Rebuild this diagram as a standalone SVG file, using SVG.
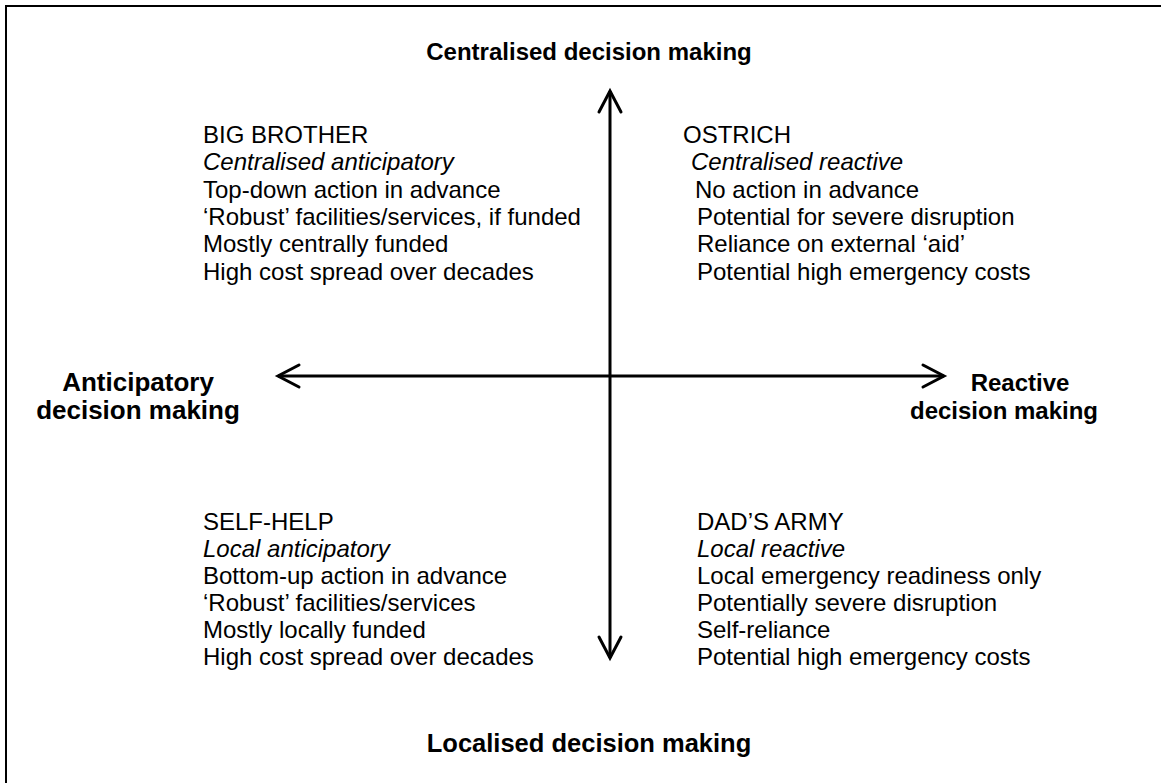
<svg xmlns="http://www.w3.org/2000/svg" width="1161" height="783" viewBox="0 0 1161 783">
  <style>
    text { font-family: "Liberation Sans", Arial, sans-serif; fill: #000; }
    .axis-label { font-size: 24px; font-weight: bold; }
    .axis-label.wide { font-size: 26px; }
    .axis-label.low { font-size: 25.5px; }
    .quad { font-size: 24px; }
    .quad .sub { font-style: italic; }
    .axis { stroke: #000; stroke-width: 3; fill: none; }
    .frame { stroke: #000; stroke-width: 2; fill: none; }
  </style>
  <defs>
    <marker id="chevron" markerUnits="userSpaceOnUse" viewBox="-26 -16 30 32" markerWidth="30" markerHeight="32" refX="0" refY="0" orient="auto-start-reverse" overflow="visible">
      <path d="M -21 -11 L 0 0 L -21 11" stroke="#000" stroke-width="3" fill="none" stroke-linecap="round" stroke-linejoin="miter"/>
    </marker>
  </defs>
  <rect width="1161" height="783" fill="#fff"/>

  <!-- outer frame (continues past the right and bottom edges) -->
  <path class="frame" d="M 6 783 L 6 6 L 1161 6"/>

  <!-- axes -->
  <g id="connectors">
    <line class="axis" x1="610" y1="91" x2="610" y2="658" marker-start="url(#chevron)" marker-end="url(#chevron)"/>
    <line class="axis" x1="278" y1="376" x2="944" y2="376" marker-start="url(#chevron)" marker-end="url(#chevron)"/>
  </g>

  <!-- axis labels -->
  <g id="label-top">
    <text class="axis-label" x="589" y="60" text-anchor="middle">Centralised decision making</text>
  </g>
  <g id="label-bottom">
    <text class="axis-label low" x="589" y="752" text-anchor="middle">Localised decision making</text>
  </g>
  <g id="label-left">
    <text class="axis-label wide" x="138" y="391" text-anchor="middle">Anticipatory</text>
    <text class="axis-label wide" x="138" y="419" text-anchor="middle">decision making</text>
  </g>
  <g id="label-right">
    <text class="axis-label" x="1020" y="391" text-anchor="middle">Reactive</text>
    <text class="axis-label" x="1004" y="419" text-anchor="middle">decision making</text>
  </g>

  <!-- quadrants -->
  <g id="big-brother" class="quad">
    <text x="203" y="143">BIG BROTHER</text>
    <text class="sub" x="203" y="170">Centralised anticipatory</text>
    <text x="203" y="197.5">Top-down action in advance</text>
    <text x="203" y="225">‘Robust’ facilities/services, if funded</text>
    <text x="203" y="252">Mostly centrally funded</text>
    <text x="203" y="279.5">High cost spread over decades</text>
  </g>
  <g id="ostrich" class="quad">
    <text x="683" y="143">OSTRICH</text>
    <text class="sub" x="691" y="170">Centralised reactive</text>
    <text x="695" y="197.5">No action in advance</text>
    <text x="697" y="225">Potential for severe disruption</text>
    <text x="697" y="252">Reliance on external ‘aid’</text>
    <text x="697" y="279.5">Potential high emergency costs</text>
  </g>
  <g id="self-help" class="quad">
    <text x="203" y="530">SELF-HELP</text>
    <text class="sub" x="203" y="557">Local anticipatory</text>
    <text x="203" y="584">Bottom-up action in advance</text>
    <text x="203" y="611">‘Robust’ facilities/services</text>
    <text x="203" y="638">Mostly locally funded</text>
    <text x="203" y="665">High cost spread over decades</text>
  </g>
  <g id="dads-army" class="quad">
    <text x="697" y="530">DAD’S ARMY</text>
    <text class="sub" x="697" y="557">Local reactive</text>
    <text x="697" y="584">Local emergency readiness only</text>
    <text x="697" y="611">Potentially severe disruption</text>
    <text x="697" y="638">Self-reliance</text>
    <text x="697" y="665">Potential high emergency costs</text>
  </g>
</svg>
